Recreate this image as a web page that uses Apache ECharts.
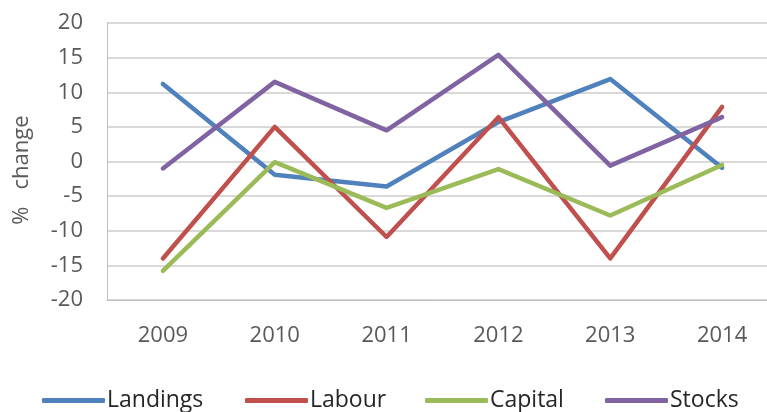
<!DOCTYPE html>
<html><head><meta charset="utf-8">
<script src="https://cdn.jsdelivr.net/npm/echarts@6/dist/echarts.min.js"></script>
<style>html,body{margin:0;padding:0;background:#fff}#c{width:767px;height:412px}</style>
</head><body><div id="c"></div>
<script>
const categories = ['2009','2010','2011','2012','2013','2014'];
const landings = [11.2, -1.9, -3.6, 5.7, 11.9, -0.9];
const labour = [-14.0, 5.0, -10.9, 6.4, -14.0, 7.9];
const capital = [-15.8, -0.1, -6.7, -1.1, -7.8, -0.5];
const stocks = [-1.0, 11.5, 4.5, 15.4, -0.6, 6.4];
const yTicks = { min: -20, max: 20, interval: 5 };

const colors = ['#4F81BD', '#C0504D', '#9BBB59', '#8064A2'];
const names = ['Landings', 'Labour', 'Capital', 'Stocks'];
const data = [landings, labour, capital, stocks];
const FONT = 'Open Sans';
const legendLeft = [37, 240, 420, 600];

const chart = echarts.init(document.getElementById('c'));
chart.setOption({
  animation: false,
  color: colors,
  grid: { left: 107, width: 671, top: 23, height: 277, outerBoundsMode: 'none', containLabel: false },
  legend: names.map((n, i) => ({
    top: 384, left: legendLeft[i],
    itemWidth: 63, itemHeight: 5, itemGap: 0, icon: 'roundRect',
    textStyle: { fontFamily: FONT, fontSize: 23, color: '#262626', padding: [0,0,0,-3] },
    data: [n]
  })),
  xAxis: {
    type: 'category', data: categories, boundaryGap: true,
    axisLine: { onZero: false, lineStyle: { color: '#bfbfbf', width: 1 } },
    axisTick: { show: false },
    axisLabel: { fontFamily: FONT, fontSize: 22, color: '#595959', margin: 25 }
  },
  yAxis: {
    type: 'value', min: yTicks.min, max: yTicks.max, interval: yTicks.interval,
    name: '%   change   ', nameLocation: 'middle', nameGap: 74, nameRotate: 90,
    nameTextStyle: { fontFamily: FONT, fontSize: 22, color: '#595959' },
    axisLine: { show: true, lineStyle: { color: '#bfbfbf', width: 1 } },
    axisTick: { show: false },
    splitLine: { lineStyle: { color: '#d9d9d9', width: 2 } },
    axisLabel: { fontFamily: FONT, fontSize: 22, color: '#595959', margin: 24 }
  },
  series: names.map((n, i) => ({
    name: n, type: 'line', data: data[i], symbol: 'none',
    lineStyle: { width: 4.5, color: colors[i], cap: 'round', join: 'round' }
  }))
});
</script></body></html>
